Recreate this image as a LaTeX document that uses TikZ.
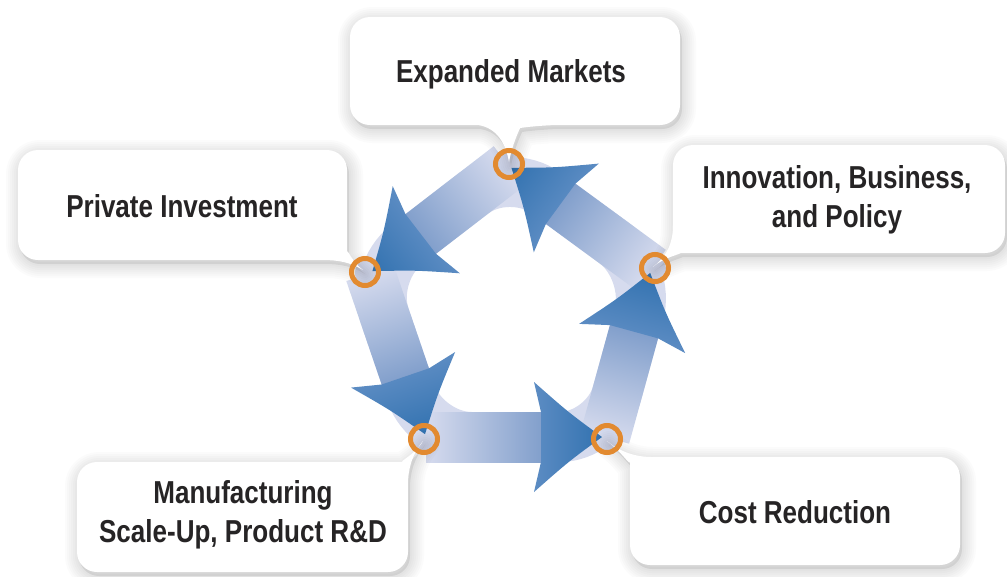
\documentclass[tikz,border=0pt]{standalone}
\usepackage{fontspec}
\setmainfont{Liberation Sans}[FakeStretch=0.82]
\usetikzlibrary{calc}
\definecolor{ringlight}{RGB}{214,219,238}
\definecolor{ringmid}{RGB}{128,158,203}
\definecolor{headA}{RGB}{92,140,195}
\definecolor{headB}{RGB}{50,114,176}
\definecolor{ringorange}{RGB}{226,138,48}
\definecolor{txt}{RGB}{38,36,37}

% band of one segment: #1,#2 start, #3 angle, #4 length
\newcommand{\ringseg}[4]{%
 \begin{scope}[transform canvas={shift={(#1,#2)},rotate=#3}]
  \shade[left color=ringlight, right color=ringmid] (0,-25) rectangle ({#4-61},25);
 \end{scope}}
\newcommand{\ringhead}[4]{%
 \begin{scope}[transform canvas={shift={(#1,#2)},rotate=#3}]
  \shade[left color=headA, right color=headB] ({#4-64},25) -- ({#4-71},55)
   .. controls ({#4-37},25) .. ({#4-3},0)
   .. controls ({#4-37},-25) .. ({#4-71},-55) -- ({#4-64},-25) -- cycle;
 \end{scope}}

\newcommand{\calloutEM}[1]{\path[#1, rounded corners=15pt] (350,-71) -- (350,-17) -- (680,-17) -- (680,-125) -- (540,-125) [sharp corners] .. controls (520,-128) and (512,-145) .. (509,-162) .. controls (506,-145) and (498,-128) .. (478,-125) [rounded corners=15pt] -- (350,-125) -- cycle;}
\newcommand{\calloutPI}[1]{\path[#1, rounded corners=15pt] (18,-205) -- (18,-150) -- (347,-150) -- (347,-232) [sharp corners] .. controls (347,-248) and (352,-262) .. (363,-270) .. controls (350,-262) and (338,-260) .. (322,-260) [rounded corners=15pt] -- (18,-260) -- cycle;}
\newcommand{\calloutIB}[1]{\path[#1, rounded corners=15pt] (1005,-199) -- (1005,-253) -- (700,-253) [sharp corners] .. controls (684,-253) and (662,-258) .. (653,-267) .. controls (668,-255) and (673,-242) .. (673,-225) [rounded corners=15pt] -- (673,-145) -- (1005,-145) -- cycle;}
\newcommand{\calloutMF}[1]{\path[#1, rounded corners=15pt] (77,-517) -- (77,-462) -- (383,-462) [sharp corners] .. controls (398,-462) and (415,-455) .. (423,-441) .. controls (412,-455) and (408,-468) .. (408,-485) [rounded corners=15pt] -- (408,-572) -- (77,-572) -- cycle;}
\newcommand{\calloutCR}[1]{\path[#1, rounded corners=15pt] (960,-511) -- (960,-565) -- (630,-565) -- (630,-482) [sharp corners] .. controls (630,-466) and (622,-452) .. (607,-441) .. controls (620,-452) and (636,-457) .. (652,-457) [rounded corners=15pt] -- (960,-457) -- cycle;}
\newcommand{\softshadow}[1]{%
 #1{fill=black, opacity=0.07, shift={(2,-4)}}%
 \foreach \w in {3,6,9,12,15,18,21}{%
  #1{draw=black, line width=\w pt, opacity=0.016, shift={(2,-4)}, line join=round}}}

\begin{document}
\begin{tikzpicture}[x=0.75pt,y=0.75pt,
  lbl/.style={font=\fontsize{23.8}{29.5}\selectfont\bfseries, text=txt, align=center, inner sep=0pt},
  ringmark/.style={circle, draw=ringorange, line width=3.75pt, minimum size=20.25pt, inner sep=0pt}]
\useasboundingbox (0,0) rectangle (1007,-576);
\fill[white] (0,0) rectangle (1007,-576);

% ring vertices
\coordinate (E) at (509,-166);
\coordinate (P) at (370,-273);
\coordinate (M) at (426,-437);
\coordinate (C) at (605,-437);
\coordinate (I) at (651,-270);

% light base ring
\draw[ringlight, line width=37.5pt, rounded corners=34pt] ($(E)!0.5!(P)$) -- (P) -- (M) -- (C) -- (I) -- (E) -- cycle;
\foreach \v in {E,P,M,C,I} \fill[ringlight] (\v) circle[radius=15];

% bands
\ringseg{509}{-166}{217.6}{175.4}
\ringseg{370}{-273}{288.85}{173.3}
\ringseg{426}{-437}{0}{179}
\ringseg{605}{-437}{74.6}{173.2}
\ringseg{651}{-270}{143.78}{176.0}
% heads
\ringhead{509}{-166}{217.6}{175.4}
\ringhead{370}{-273}{288.85}{173.3}
\ringhead{426}{-437}{0}{179}
\ringhead{605}{-437}{74.6}{173.2}
\ringhead{651}{-270}{143.78}{176.0}

% callouts
\softshadow{\calloutEM}
\softshadow{\calloutPI}
\softshadow{\calloutIB}
\softshadow{\calloutMF}
\softshadow{\calloutCR}
\calloutEM{fill=white}
\calloutPI{fill=white}
\calloutIB{fill=white}
\calloutMF{fill=white}
\calloutCR{fill=white}

% orange rings
\node[ringmark] (cE) at (509,-164) {};
\node[ringmark] (cP) at (365,-272) {};
\node[ringmark] (cM) at (424,-439) {};
\node[ringmark] (cC) at (607,-439) {};
\node[ringmark] (cI) at (655,-268) {};

% texts
\node[lbl, anchor=base] (em) at (511,-82) {Expanded Markets};
\node[lbl, anchor=base] (pi) at (182,-217) {Private Investment};
\node[lbl] (ib) at (837,-200) {Innovation, Business,\\and Policy};
\node[lbl] (mf) at (243,-515) {Manufacturing\\Scale-Up, Product R\&D};
\node[lbl, anchor=base] (cr) at (795,-523) {Cost Reduction};
\end{tikzpicture}
\end{document}
